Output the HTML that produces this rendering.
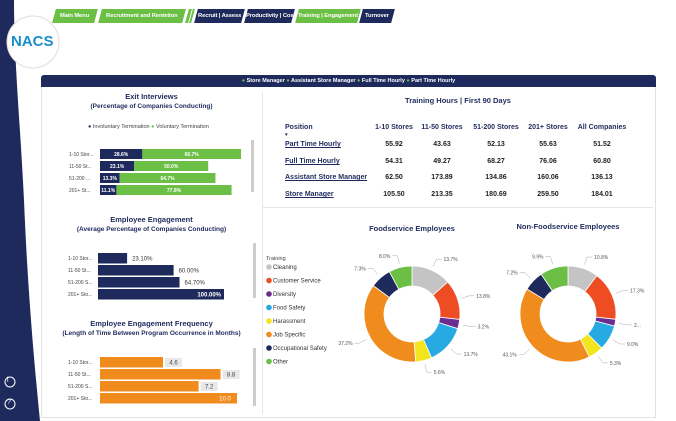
<!DOCTYPE html>
<html><head><meta charset="utf-8"><style>
*{margin:0;padding:0;box-sizing:border-box}
body{width:676px;height:421px;overflow:hidden;background:#fff;font-family:"Liberation Sans",sans-serif;position:relative;color:#1e2a5a}
.a{position:absolute;white-space:nowrap}
.tab{position:absolute;top:9px;height:14px;color:#fff;font-size:5.8px;font-weight:bold;text-align:center;line-height:14px;transform:skewX(-15deg);white-space:nowrap;overflow:hidden;letter-spacing:-0.1px}
.tab span{display:inline-block;transform:skewX(15deg)}
.g{background:#6bbf45}.n{background:#1f2a5c}
.t{font-size:7.5px;font-weight:bold;color:#1f2a5c;text-align:center}
.th{font-size:7px;font-weight:bold;color:#1f2a5c}
.c{font-size:7px;font-weight:bold;color:#222;text-align:center;width:60px}
.p{font-size:7px;font-weight:bold;color:#1f2a5c;text-decoration:underline}
</style></head><body>
<svg class="a" style="left:0;top:0" width="60" height="421">
<path d="M0 0 H14 C14 60 20 120 24 200 C28 300 36 380 40 421 H0 Z" fill="#1f2a5c"/>
<circle cx="33" cy="42" r="26" fill="#fff" stroke="#ddd"/>
<circle cx="10" cy="382" r="5" fill="none" stroke="#fff" stroke-width="1"/>
<circle cx="10" cy="404" r="5" fill="none" stroke="#fff" stroke-width="1"/>
</svg>
<div class="a" style="left:11px;top:33px;font-size:15px;font-weight:bold;color:#1a8fc9">NACS</div>
<div class="a" style="left:7px;top:377px;font-size:7px;color:#fff">i</div>
<div class="a" style="left:7px;top:399px;font-size:7px;color:#fff">?</div>

<div class="tab g" style="left:54px;width:42px"><span>Main Menu</span></div>
<div class="tab g" style="left:100px;width:84px"><span>Recruitment and Rentetion</span></div>
<div class="tab g" style="left:187px;width:3px"></div><div class="tab g" style="left:191px;width:2px"></div>
<div class="tab n" style="left:196px;width:47px"><span>Recruit | Assess</span></div>
<div class="tab n" style="left:246px;width:47px"><span>Productivity | Cost</span></div>
<div class="tab g" style="left:297px;width:62px"><span>Training | Engagement</span></div>
<div class="tab n" style="left:361px;width:32px"><span>Turnover</span></div>

<div class="a" style="left:41px;top:75px;width:615px;height:12px;background:#1f2a5c;border-radius:3px 3px 0 0;color:#fff;font-size:5.5px;font-weight:bold;text-align:center;line-height:12px"><span style="color:#6bbf45">●</span> Store Manager <span style="color:#6bbf45">●</span> Assistant Store Manager <span style="color:#6bbf45">●</span> Full Time Hourly <span style="color:#6bbf45">●</span> Part Time Hourly</div>
<div class="a" style="left:41px;top:87px;width:615px;height:331px;border:1px solid #e2e2e2;border-top:none"></div>
<div class="a" style="left:262px;top:92px;width:1px;height:322px;background:#e6e6e6"></div>
<div class="a" style="left:263px;top:207px;width:390px;height:1px;background:#e6e6e6"></div>

<div class="a t" style="left:41px;top:92px;width:221px">Exit Interviews<br><span style="font-size:6.5px">(Percentage of Companies Conducting)</span></div>
<div class="a" style="left:88px;top:124px;font-size:5.5px;color:#444"><span style="color:#1f2a5c">●</span> Involuntary Termination <span style="color:#6bbf45">●</span> Voluntary Termination</div>
<div class="a t" style="left:41px;top:215px;width:221px">Employee Engagement<br><span style="font-size:6.5px">(Average Percentage of Companies Conducting)</span></div>
<div class="a t" style="left:41px;top:319px;width:221px">Employee Engagement Frequency<br><span style="font-size:6.5px">(Length of Time Between Program Occurrence in Months)</span></div>
<div class="a" style="left:251px;top:140px;width:3px;height:52px;background:#ccc"></div>
<div class="a" style="left:253px;top:243px;width:3px;height:55px;background:#ccc"></div>
<div class="a" style="left:253px;top:348px;width:3px;height:58px;background:#ccc"></div>

<svg id="left" class="a" style="left:0;top:0" width="262" height="421"></svg>

<div class="a t" style="left:263px;top:96px;width:390px">Training Hours | First 90 Days</div>
<div id="tbl"></div>

<div class="a t" style="left:362px;top:224px;width:100px">Foodservice Employees</div>
<div class="a t" style="left:508px;top:222px;width:120px">Non-Foodservice Employees</div>
<svg id="right" class="a" style="left:0;top:0" width="676" height="421"></svg>

<script>
const storeCats=["1-10 Stor...","11-50 St...","51-200 ...","201+ St..."];
const involuntary=[28.6,23.1,13.3,11.1];
const voluntary=[66.7,50.0,64.7,77.8];
const engCats=["1-10 Stor...","11-50 St...","51-200 S...","201+ Sto..."];
const engagement=[23.1,60.0,64.7,100.0];
const frequency=[4.6,8.8,7.2,10.0];
const positions=["Part Time Hourly","Full Time Hourly","Assistant Store Manager","Store Manager"];
const colHeads=["1-10 Stores","11-50 Stores","51-200 Stores","201+ Stores","All Companies"];
const hours=[["55.92","43.63","52.13","55.63","51.52"],["54.31","49.27","68.27","76.06","60.80"],["62.50","173.89","134.86","160.06","136.13"],["105.50","213.35","180.69","259.50","184.01"]];
const trainCats=["Cleaning","Customer Service","Diversity","Food Safety","Harassment","Job Specific","Occupational Safety","Other"];
const trainColors=["#c4c4c4","#ee4d23","#6a2c91","#27a9e1","#f2e51d","#f08c1e","#1f2a5c","#6bbf45"];
const foodVals=[13.7,13.8,3.2,13.7,5.6,37.2,7.3,8.0];
const foodLbl=["13.7%","13.8%","3.2%","13.7%","5.6%","37.2%","7.3%","8.0%"];
const nonVals=[10.8,17.3,2.4,9.0,5.3,43.1,7.2,9.9];
const nonLbl=["10.8%","17.3%","2...","9.0%","5.3%","43.1%","7.2%","9.9%"];
const NS="http://www.w3.org/2000/svg";
function mk(svg,tag,at,txt){const e=document.createElementNS(NS,tag);for(const k in at)e.setAttribute(k,at[k]);if(txt!==undefined)e.textContent=txt;svg.appendChild(e);return e;}
const L=document.getElementById('left');
const ex=v=>v*1.48, exY=i=>149+i*12;
storeCats.forEach((c,i)=>{
  let t=mk(L,'text',{x:69,y:exY(i)+7,'font-size':5,fill:'#444'},c);
  
  
  let r=mk(L,'rect',{x:100,y:exY(i),width:ex(involuntary[i]),height:10,fill:'#1f2a5c'});
  
  
  let r2=mk(L,'rect',{x:100+ex(involuntary[i]),y:exY(i),width:ex(voluntary[i]),height:10,fill:'#6bbf45'});
  
  
  mk(L,'text',{x:100+ex(involuntary[i])/2,y:exY(i)+7,'font-size':5,fill:'#fff','font-weight':'bold','text-anchor':'middle'},involuntary[i].toFixed(1)+'%');
  mk(L,'text',{x:100+ex(involuntary[i])+ex(voluntary[i])/2,y:exY(i)+7,'font-size':5,fill:'#fff','font-weight':'bold','text-anchor':'middle'},voluntary[i].toFixed(1)+'%');
});
const eg=v=>v*1.26, egY=i=>253+i*12;
engCats.forEach((c,i)=>{
  mk(L,'text',{x:68,y:egY(i)+7,'font-size':5,fill:'#444'},c);
  let r=mk(L,'rect',{x:98,y:egY(i),width:eg(engagement[i]),height:10.5,fill:'#1f2a5c'});
  
  
  const inside=engagement[i]>=90;
  mk(L,'text',{x:inside?98+eg(engagement[i])-3:98+eg(engagement[i])+5,y:egY(i)+7.5,'font-size':6,fill:inside?'#fff':'#333','font-weight':inside?'bold':'normal','text-anchor':inside?'end':'start'},engagement[i].toFixed(2)+'%');
});
const fq=v=>v*13.7, fqY=i=>357+i*12;
engCats.forEach((c,i)=>{
  mk(L,'text',{x:68,y:fqY(i)+7,'font-size':5,fill:'#444'},c);
  let r=mk(L,'rect',{x:100,y:fqY(i),width:fq(frequency[i]),height:10.5,fill:'#f08c1e'});
  
  
  const inside=frequency[i]>=9.5;
  if(!inside)mk(L,'rect',{x:100+fq(frequency[i])+2,y:fqY(i)+1,width:17,height:9,fill:'#e8e8e8'});
  mk(L,'text',{x:inside?100+fq(frequency[i])-12:100+fq(frequency[i])+10.5,y:fqY(i)+7.5,'font-size':6,fill:inside?'#fff':'#444','text-anchor':'middle'},frequency[i].toFixed(1));
});
const tb=document.getElementById('tbl');
const colC=[394,442,496,548,602];
let h='<div class="a th" style="left:285px;top:124px">Position<br><span style="font-size:5px">▾</span></div>';
colHeads.forEach((c,j)=>{h+=`<div class="a c" style="left:${colC[j]-35}px;top:124px;width:70px;color:#1f2a5c">${c}</div>`;});
const rowY=[141,158,174,191];
positions.forEach((p,i)=>{const y=rowY[i];
 h+=`<div class="a p" style="left:285px;top:${y}px">${p}</div>`;
 hours[i].forEach((v,j)=>{h+=`<div class="a c" style="left:${colC[j]-30}px;top:${y}px">${v}</div>`;});});
tb.innerHTML=h;
const R=document.getElementById('right');
mk(R,'text',{x:266,y:260,'font-size':5.5,fill:'#444'},'Training');
trainCats.forEach((c,i)=>{
  const y=269+i*13.5;
  let d=mk(R,'circle',{cx:269,cy:y-2,r:2.8,fill:trainColors[i]});
  
  
  let t=mk(R,'text',{x:273,y:y,'font-size':6,fill:'#333'},c);
  
  
});
function donut(cx,cy,vals,lbls,name){
  const tot=vals.reduce((a,b)=>a+b,0),ro=48,ri=28;let a0=-Math.PI/2;
  vals.forEach((v,i)=>{
    const a1=a0+v/tot*2*Math.PI,lg=(a1-a0)>Math.PI?1:0;
    const p=(r,a)=>[cx+r*Math.cos(a),cy+r*Math.sin(a)];
    const [x1,y1]=p(ro,a0),[x2,y2]=p(ro,a1),[x3,y3]=p(ri,a1),[x4,y4]=p(ri,a0);
    let s=mk(R,'path',{d:`M${x1} ${y1}A${ro} ${ro} 0 ${lg} 1 ${x2} ${y2}L${x3} ${y3}A${ri} ${ri} 0 ${lg} 0 ${x4} ${y4}Z`,fill:trainColors[i],stroke:'#fff','stroke-width':0.8});
    
    
    const am=(a0+a1)/2,[lx,ly]=p(ro+4,am),[ex2,ey2]=p(ro+12,am),right=Math.cos(am)>=0;
    mk(R,'polyline',{points:`${lx},${ly} ${ex2},${ey2} ${ex2+(right?5:-5)},${ey2}`,fill:'none',stroke:'#aaa','stroke-width':0.5});
    mk(R,'text',{x:ex2+(right?7:-7),y:ey2+2,'font-size':5,fill:'#555','text-anchor':right?'start':'end'},lbls[i]);
    a0=a1;
  });
}
donut(412,314,foodVals,foodLbl,'foodservice');
donut(568,314,nonVals,nonLbl,'nonfoodservice');
</script>
</body></html>
